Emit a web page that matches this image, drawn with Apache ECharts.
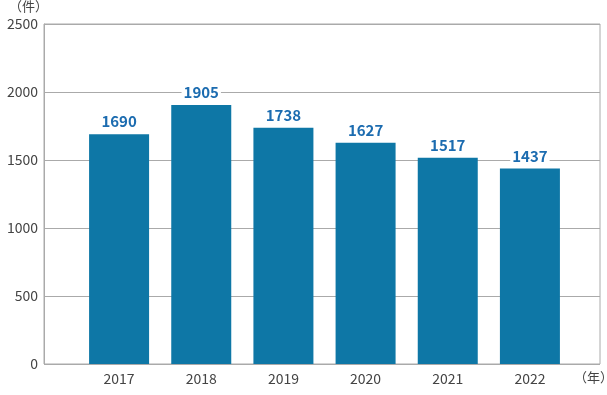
<!DOCTYPE html>
<html><head><meta charset="utf-8">
<script src="https://cdn.jsdelivr.net/npm/echarts@6/dist/echarts.min.js"></script>
<style>html,body{margin:0;padding:0;background:#fff}#c{width:607px;height:395px}</style>
</head><body><div id="c"></div>
<script>
const categories = ['2017','2018','2019','2020','2021','2022'];
const values = [1690, 1905, 1738, 1627, 1517, 1437];
const yTicks = [0, 500, 1000, 1500, 2000, 2500];
const yUnit = '（件）';
const xUnit = '（年）';

const font = '"Noto Sans CJK JP", "Noto Sans", sans-serif';
const chart = echarts.init(document.getElementById('c'));
chart.setOption({
  animation: false,
  textStyle: {fontFamily: font},
  grid: [
    {left: 44, right: 7, top: 24, bottom: 31, show: true, borderColor: '#aaa', borderWidth: 1},
    {left: 78, right: 36, top: 24, bottom: 31}
  ],
  xAxis: [
    {gridIndex: 0, type: 'value', show: false, min: 0, max: 1},
    {gridIndex: 1, type: 'category', data: categories,
     axisLine: {show: false}, axisTick: {show: false},
     axisLabel: {color: '#444', fontSize: 14, margin: 8, fontFamily: font}}
  ],
  yAxis: [
    {gridIndex: 0, type: 'value', min: yTicks[0], max: yTicks[yTicks.length-1], interval: 500,
     axisLine: {show: true, lineStyle: {color: '#aaa'}}, axisTick: {show: false},
     splitLine: {lineStyle: {color: '#aaa'}},
     axisLabel: {color: '#444', fontSize: 14, margin: 6, fontFamily: font,
                 formatter: v => String(v)}},
    {gridIndex: 1, type: 'value', min: yTicks[0], max: yTicks[yTicks.length-1], show: false}
  ],
  graphic: [
    {type: 'text', left: 9, top: 0, style: {text: yUnit, fill: '#444', font: '13px ' + font}},
    {type: 'text', left: 574, top: 371, style: {text: xUnit, fill: '#444', font: '13px ' + font}}
  ],
  series: [{
    type: 'bar', xAxisIndex: 1, yAxisIndex: 1, data: values, barWidth: 60,
    itemStyle: {color: '#0e77a6'},
    label: {show: true, position: 'top', distance: 5, color: '#1c6cb0', fontWeight: 'bold',
            fontSize: 15, fontFamily: font, backgroundColor: '#fff', padding: [0, 2]}
  }]
});
</script></body></html>
